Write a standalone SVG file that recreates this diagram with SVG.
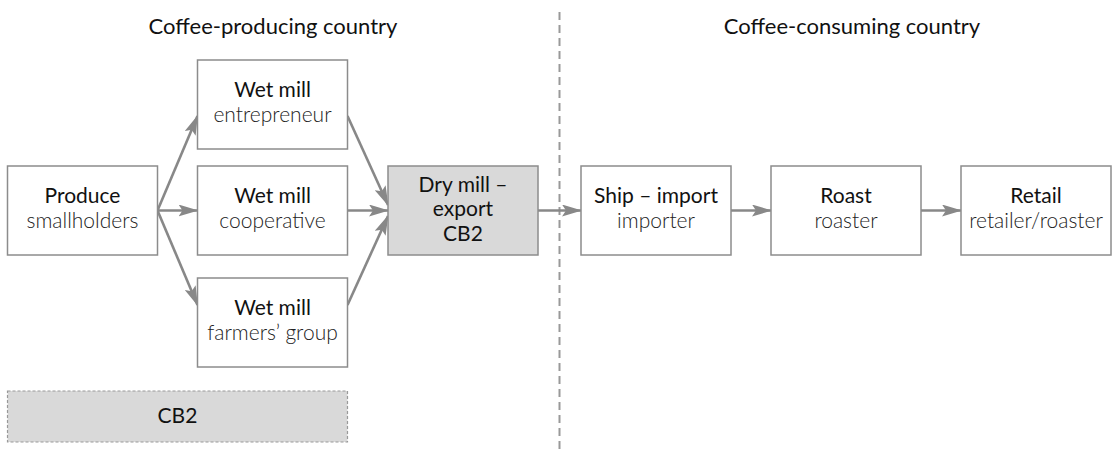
<svg xmlns="http://www.w3.org/2000/svg" width="1115" height="452" viewBox="0 0 1115 452">
<style>
.box{fill:#ffffff;stroke:#8c8c8c;stroke-width:1.5}
.grey{fill:#d9d9d9}
.t{font-family:Lato,"Liberation Sans",sans-serif;font-size:21px;fill:#111;text-anchor:middle;font-weight:400}
.s{font-family:Lato,"Liberation Sans",sans-serif;font-size:21px;fill:#222;text-anchor:middle;font-weight:300}
.h{font-family:Lato,"Liberation Sans",sans-serif;font-size:22px;fill:#111;text-anchor:middle;font-weight:400}
.c{fill:none;stroke:#888;stroke-width:2.6}
</style>
<defs>
<marker id="ah" viewBox="0 0 20 12" refX="19" refY="6" markerWidth="20" markerHeight="12" markerUnits="userSpaceOnUse" orient="auto">
<path d="M0,0 L20,6 L0,12 L4,6 z" fill="#888"/>
</marker>
</defs>
<text class="h" x="273" y="34">Coffee-producing country</text>
<text class="h" x="852" y="34">Coffee-consuming country</text>
<line x1="559.5" y1="12" x2="559.5" y2="452" stroke="#999" stroke-width="2" stroke-dasharray="8,5"/>
<g id="connectors">
<line class="c" x1="157.5" y1="210.5" x2="197.5" y2="116" marker-end="url(#ah)"/>
<line class="c" x1="157.5" y1="210.5" x2="197.5" y2="210.5" marker-end="url(#ah)"/>
<line class="c" x1="157.5" y1="210.5" x2="197.5" y2="305" marker-end="url(#ah)"/>
<line class="c" x1="347.5" y1="116" x2="388" y2="205" marker-end="url(#ah)"/>
<line class="c" x1="347.5" y1="210.5" x2="388" y2="210.5" marker-end="url(#ah)"/>
<line class="c" x1="347.5" y1="305" x2="388" y2="216" marker-end="url(#ah)"/>
<line class="c" x1="538" y1="210.5" x2="581" y2="210.5" marker-end="url(#ah)"/>
<line class="c" x1="731" y1="210.5" x2="771" y2="210.5" marker-end="url(#ah)"/>
<line class="c" x1="921" y1="210.5" x2="961" y2="210.5" marker-end="url(#ah)"/>
</g>
<g id="produce">
<rect class="box" x="7.5" y="166" width="150" height="89"/>
<text class="t" x="82.5" y="203">Produce</text>
<text class="s" x="82.5" y="228">smallholders</text>
</g>
<g id="wet-entrepreneur">
<rect class="box" x="197.5" y="60" width="150" height="89"/>
<text class="t" x="272.5" y="97">Wet mill</text>
<text class="s" x="272.5" y="122">entrepreneur</text>
</g>
<g id="wet-cooperative">
<rect class="box" x="197.5" y="166" width="150" height="89"/>
<text class="t" x="272.5" y="203">Wet mill</text>
<text class="s" x="272.5" y="228">cooperative</text>
</g>
<g id="wet-farmers">
<rect class="box" x="197.5" y="278" width="150" height="89"/>
<text class="t" x="272.5" y="315">Wet mill</text>
<text class="s" x="272.5" y="340">farmers’ group</text>
</g>
<g id="dry-mill">
<rect class="box grey" x="388" y="166" width="150" height="89"/>
<text class="t" x="463" y="191.5">Dry mill –</text>
<text class="t" x="463" y="216">export</text>
<text class="t" x="463" y="240.5">CB2</text>
</g>
<g id="ship">
<rect class="box" x="581" y="166" width="150" height="89"/>
<text class="t" x="656" y="203">Ship – import</text>
<text class="s" x="656" y="228">importer</text>
</g>
<g id="roast">
<rect class="box" x="771" y="166" width="150" height="89"/>
<text class="t" x="846" y="203">Roast</text>
<text class="s" x="846" y="228">roaster</text>
</g>
<g id="retail">
<rect class="box" x="961" y="166" width="150" height="89"/>
<text class="t" x="1036" y="203">Retail</text>
<text class="s" x="1036" y="228">retailer/roaster</text>
</g>
<g id="cb2">
<rect x="7.5" y="391" width="340" height="51" fill="#d9d9d9" stroke="#999" stroke-width="1.2" stroke-dasharray="3,2"/>
<text class="t" x="177.5" y="423">CB2</text>
</g>
</svg>
